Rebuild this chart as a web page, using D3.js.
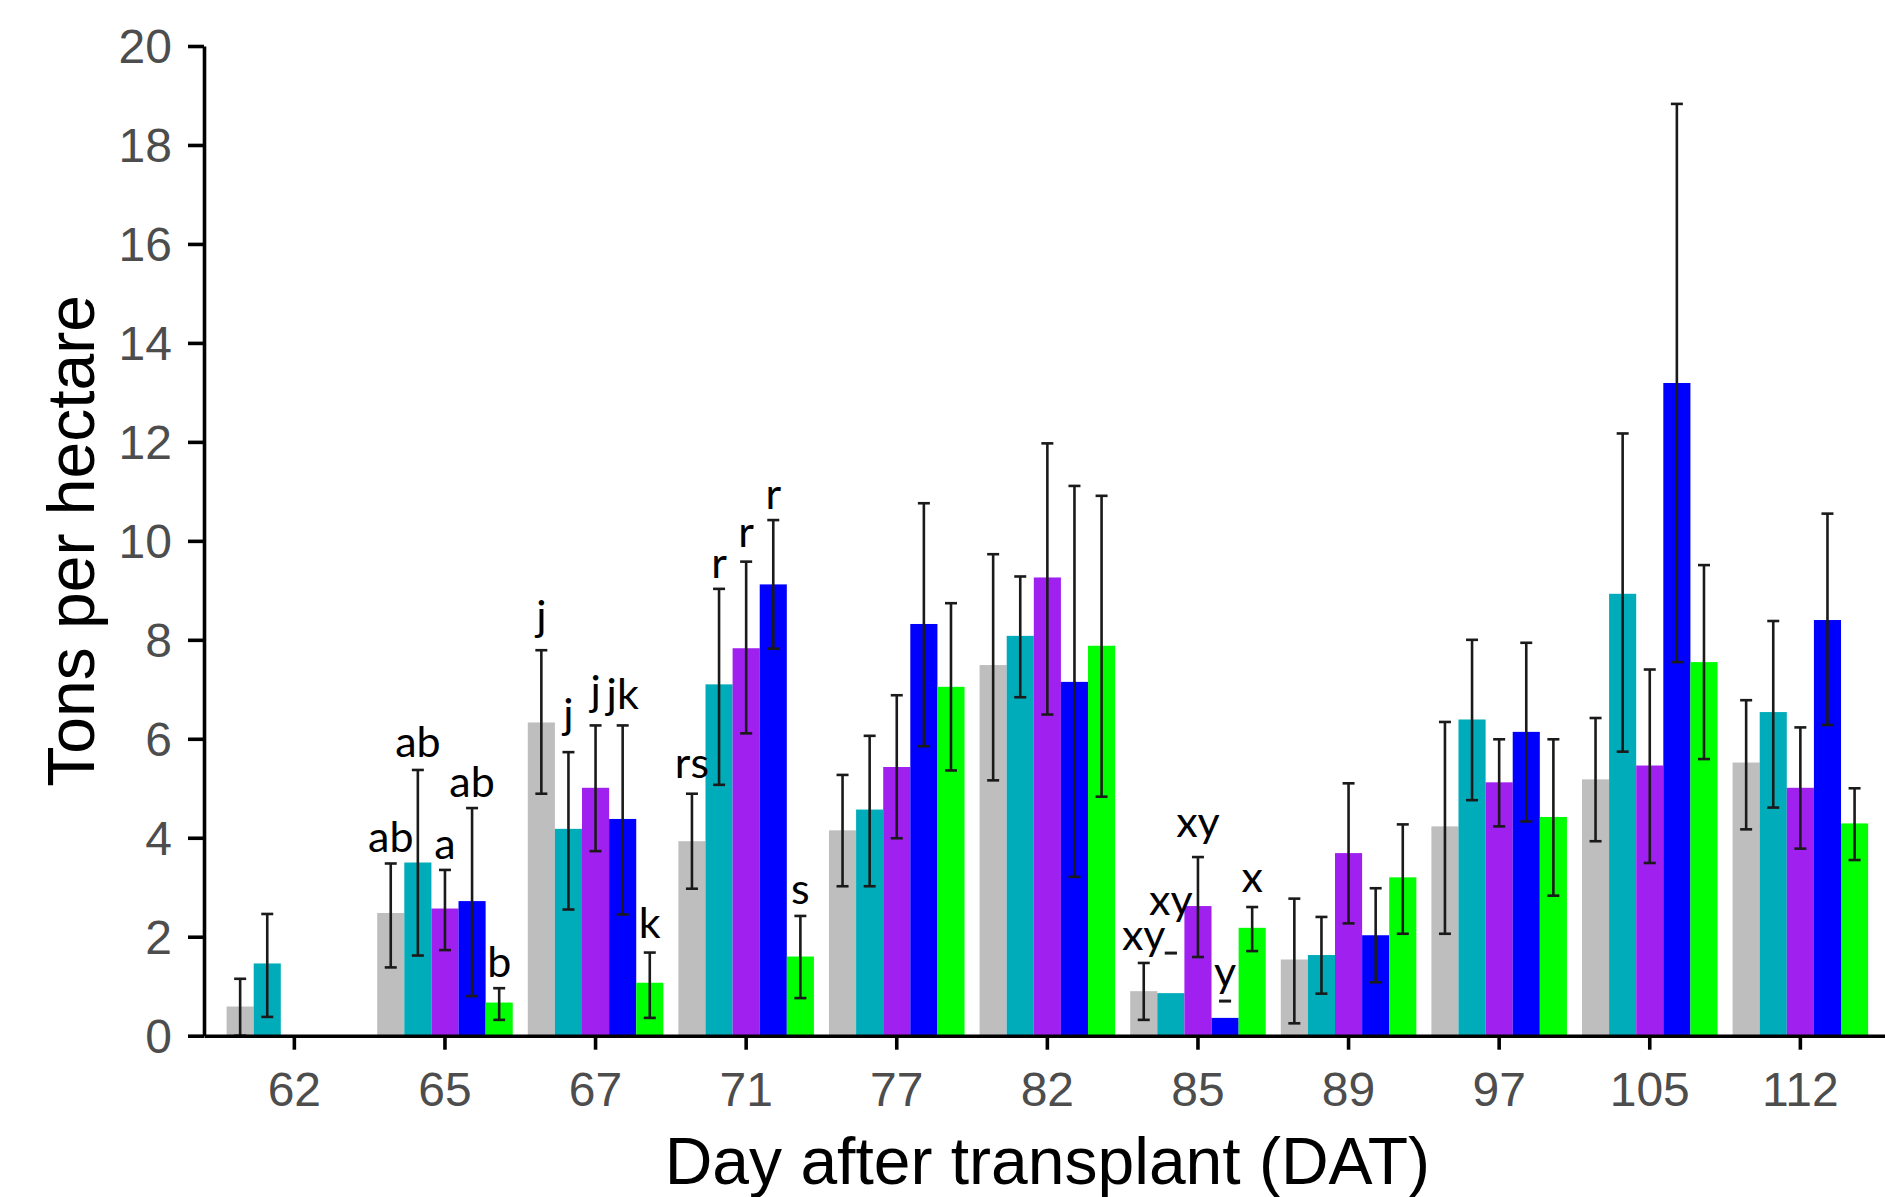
<!DOCTYPE html>
<html>
<head>
<meta charset="utf-8">
<script src="https://cdn.jsdelivr.net/npm/d3@7"></script>
<style>
  body { margin: 0; background: #fff; }
  svg { display: block; }
</style>
</head>
<body>
<svg id="chart" width="1885" height="1197"></svg>
<script>
// days after transplant on the x axis
const days = ['62', '65', '67', '71', '77', '82', '85', '89', '97', '105', '112']
const series = ['gray', 'teal', 'purple', 'blue', 'green']
const colors = ['#bebebe', '#00acb9', '#a020f0', '#0000ff', '#00ff00']
const yTicks = [0, 2, 4, 6, 8, 10, 12, 14, 16, 18, 20]

// means (t/ha), null = not measured
const grayMean   = [0.59, 2.48, 6.33, 3.93, 4.15, 7.49, 0.90, 1.54, 4.23, 5.18, 5.52]
const tealMean   = [1.46, 3.50, 4.18, 7.10, 4.57, 8.08, 0.86, 1.63, 6.39, 8.93, 6.54]
const purpleMean = [null, 2.57, 5.01, 7.83, 5.43, 9.26, 2.62, 3.69, 5.12, 5.46, 5.01]
const blueMean   = [null, 2.72, 4.38, 9.12, 8.32, 7.15, 0.36, 2.03, 6.14, 13.19, 8.40]
const greenMean  = [null, 0.67, 1.07, 1.60, 7.05, 7.88, 2.18, 3.20, 4.42, 7.55, 4.29]

// error bar ends
const grayHi   = [1.15, 3.48, 7.79, 4.89, 5.27, 9.73, 1.47, 2.77, 6.34, 6.42, 6.78]
const grayLo   = [0.00, 1.38, 4.89, 2.97, 3.02, 5.16, 0.32, 0.25, 2.06, 3.93, 4.17]
const tealHi   = [2.46, 5.37, 5.73, 9.03, 6.06, 9.28, 1.67, 2.40, 8.00, 12.17, 8.38]
const tealLo   = [0.38, 1.62, 2.55, 5.07, 3.02, 6.84, 1.67, 0.85, 4.76, 5.74, 4.61]
const purpleHi = [null, 3.35, 6.27, 9.58, 6.88, 11.97, 3.61, 5.10, 5.99, 7.40, 6.23]
const purpleLo = [null, 1.73, 3.73, 6.11, 3.99, 6.49, 1.59, 2.27, 4.23, 3.49, 3.78]
const blueHi   = [null, 4.60, 6.27, 10.42, 10.76, 11.11, 0.70, 2.98, 7.94, 18.83, 10.55]
const blueLo   = [null, 0.80, 2.45, 7.82, 5.85, 3.21, 0.70, 1.08, 4.33, 7.55, 6.28]
const greenHi  = [null, 0.96, 1.68, 2.42, 8.74, 10.91, 2.60, 4.27, 5.99, 9.51, 5.00]
const greenLo  = [null, 0.32, 0.36, 0.76, 5.36, 4.83, 1.71, 2.06, 2.83, 5.59, 3.55]

// significance letters and where they sit (t/ha)
const grayLab   = ['', 'ab', 'j', 'rs', '', '', 'xy', '', '', '', '']
const tealLab   = ['', 'ab', 'j', 'r', '', '', 'xy', '', '', '', '']
const purpleLab = ['', 'a', 'j', 'r', '', '', 'xy', '', '', '', '']
const blueLab   = ['', 'ab', 'jk', 'r', '', '', 'y', '', '', '', '']
const greenLab  = ['', 'b', 'k', 's', '', '', 'x', '', '', '', '']
const grayLabY   = [0, 3.71, 8.18, 5.21, 0, 0, 1.73, 0, 0, 0, 0]
const tealLabY   = [0, 5.63, 6.20, 9.24, 0, 0, 2.44, 0, 0, 0, 0]
const purpleLabY = [0, 3.57, 6.66, 9.87, 0, 0, 4.01, 0, 0, 0, 0]
const blueLabY   = [0, 4.83, 6.61, 10.64, 0, 0, 0.99, 0, 0, 0, 0]
const greenLabY  = [0, 1.19, 1.98, 2.67, 0, 0, 2.91, 0, 0, 0, 0]

const means = [grayMean, tealMean, purpleMean, blueMean, greenMean]
const his = [grayHi, tealHi, purpleHi, blueHi, greenHi]
const los = [grayLo, tealLo, purpleLo, blueLo, greenLo]
const labs = [grayLab, tealLab, purpleLab, blueLab, greenLab]
const labYs = [grayLabY, tealLabY, purpleLabY, blueLabY, greenLabY]

document.addEventListener('DOMContentLoaded', start)

function start () {
  const rows = []
  series.forEach((s, j) => {
    days.forEach((d, i) => {
      if (means[j][i] === null) return
      rows.push({ day: d, s, j, mean: means[j][i], hi: his[j][i], lo: los[j][i], lab: labs[j][i], labY: labYs[j][i] })
    })
  })
  drawChart(rows)
}

function drawChart (rows) {
  const svg = d3.select('#chart')
  const left = 204
  const step = 150.6 // one day slot, ggplot expands 0.6 slot on both ends
  const x = d3.scaleBand()
    .domain(days)
    .range([left, left + step * 11.2])
    .paddingInner(0.1)
    .paddingOuter(0.15)
  const xs = d3.scaleBand().domain(series).range([0, x.bandwidth()])
  const y = d3.scaleLinear().domain([0, 20]).range([1035.7, 46])

  const bx = (d) => x(d.day) + xs(d.s)
  const cx = (d) => bx(d) + xs.bandwidth() / 2

  svg.append('g')
    .selectAll('rect')
    .data(rows)
    .enter().append('rect')
    .attr('x', bx)
    .attr('width', xs.bandwidth())
    .attr('y', (d) => y(d.mean))
    .attr('height', (d) => y(0) - y(d.mean))
    .attr('fill', (d) => colors[d.j])

  // error bars
  const cap = 6
  const eb = svg.append('g')
    .attr('stroke', '#1a1a1a')
    .attr('stroke-width', 2.6)
    .selectAll('g')
    .data(rows)
    .enter().append('g')
  eb.append('line')
    .attr('x1', cx).attr('x2', cx)
    .attr('y1', (d) => y(d.hi)).attr('y2', (d) => y(d.lo))
  eb.append('line')
    .attr('x1', (d) => cx(d) - cap).attr('x2', (d) => cx(d) + cap)
    .attr('y1', (d) => y(d.hi)).attr('y2', (d) => y(d.hi))
  eb.append('line')
    .attr('x1', (d) => cx(d) - cap).attr('x2', (d) => cx(d) + cap)
    .attr('y1', (d) => y(d.lo)).attr('y2', (d) => y(d.lo))

  // letters
  svg.append('g')
    .selectAll('text')
    .data(rows.filter((d) => d.lab !== ''))
    .enter().append('text')
    .attr('x', cx)
    .attr('y', (d) => y(d.labY))
    .attr('text-anchor', 'middle')
    .style('font-family', 'Lato, "Open Sans", sans-serif')
    .style('font-size', '43px')
    .style('fill', '#000')
    .text((d) => d.lab)

  // axes
  const yAxis = svg.append('g')
    .attr('transform', `translate(${left},0)`)
    .call(d3.axisLeft(y).tickValues(yTicks).tickSize(16).tickSizeOuter(0).tickPadding(16))
  const xAxis = svg.append('g')
    .attr('transform', `translate(0,${y(0)})`)
    .call(d3.axisBottom(x).tickSize(14).tickSizeOuter(0).tickPadding(22))

  for (const ax of [xAxis, yAxis]) {
    ax.select('.domain').attr('stroke', '#000').attr('stroke-width', 3.6)
    ax.selectAll('.tick line').attr('stroke', '#000').attr('stroke-width', 3.6)
    ax.selectAll('.tick text')
      .style('font-family', '"Liberation Sans", Arial, sans-serif')
      .style('font-size', '48px')
      .style('fill', '#4d4d4d')
  }
  yAxis.selectAll('.tick text').attr('dy', '0.34em')

  svg.append('text')
    .attr('x', (left + left + step * 11.2) / 2)
    .attr('y', 1184)
    .attr('text-anchor', 'middle')
    .style('font-family', '"Liberation Sans", Arial, sans-serif')
    .style('font-size', '66px')
    .text('Day after transplant (DAT)')

  svg.append('text')
    .attr('transform', `translate(94,${(y(0) + y(20)) / 2}) rotate(-90)`)
    .attr('text-anchor', 'middle')
    .style('font-family', '"Liberation Sans", Arial, sans-serif')
    .style('font-size', '66px')
    .text('Tons per hectare')
}
</script>
</body>
</html>
